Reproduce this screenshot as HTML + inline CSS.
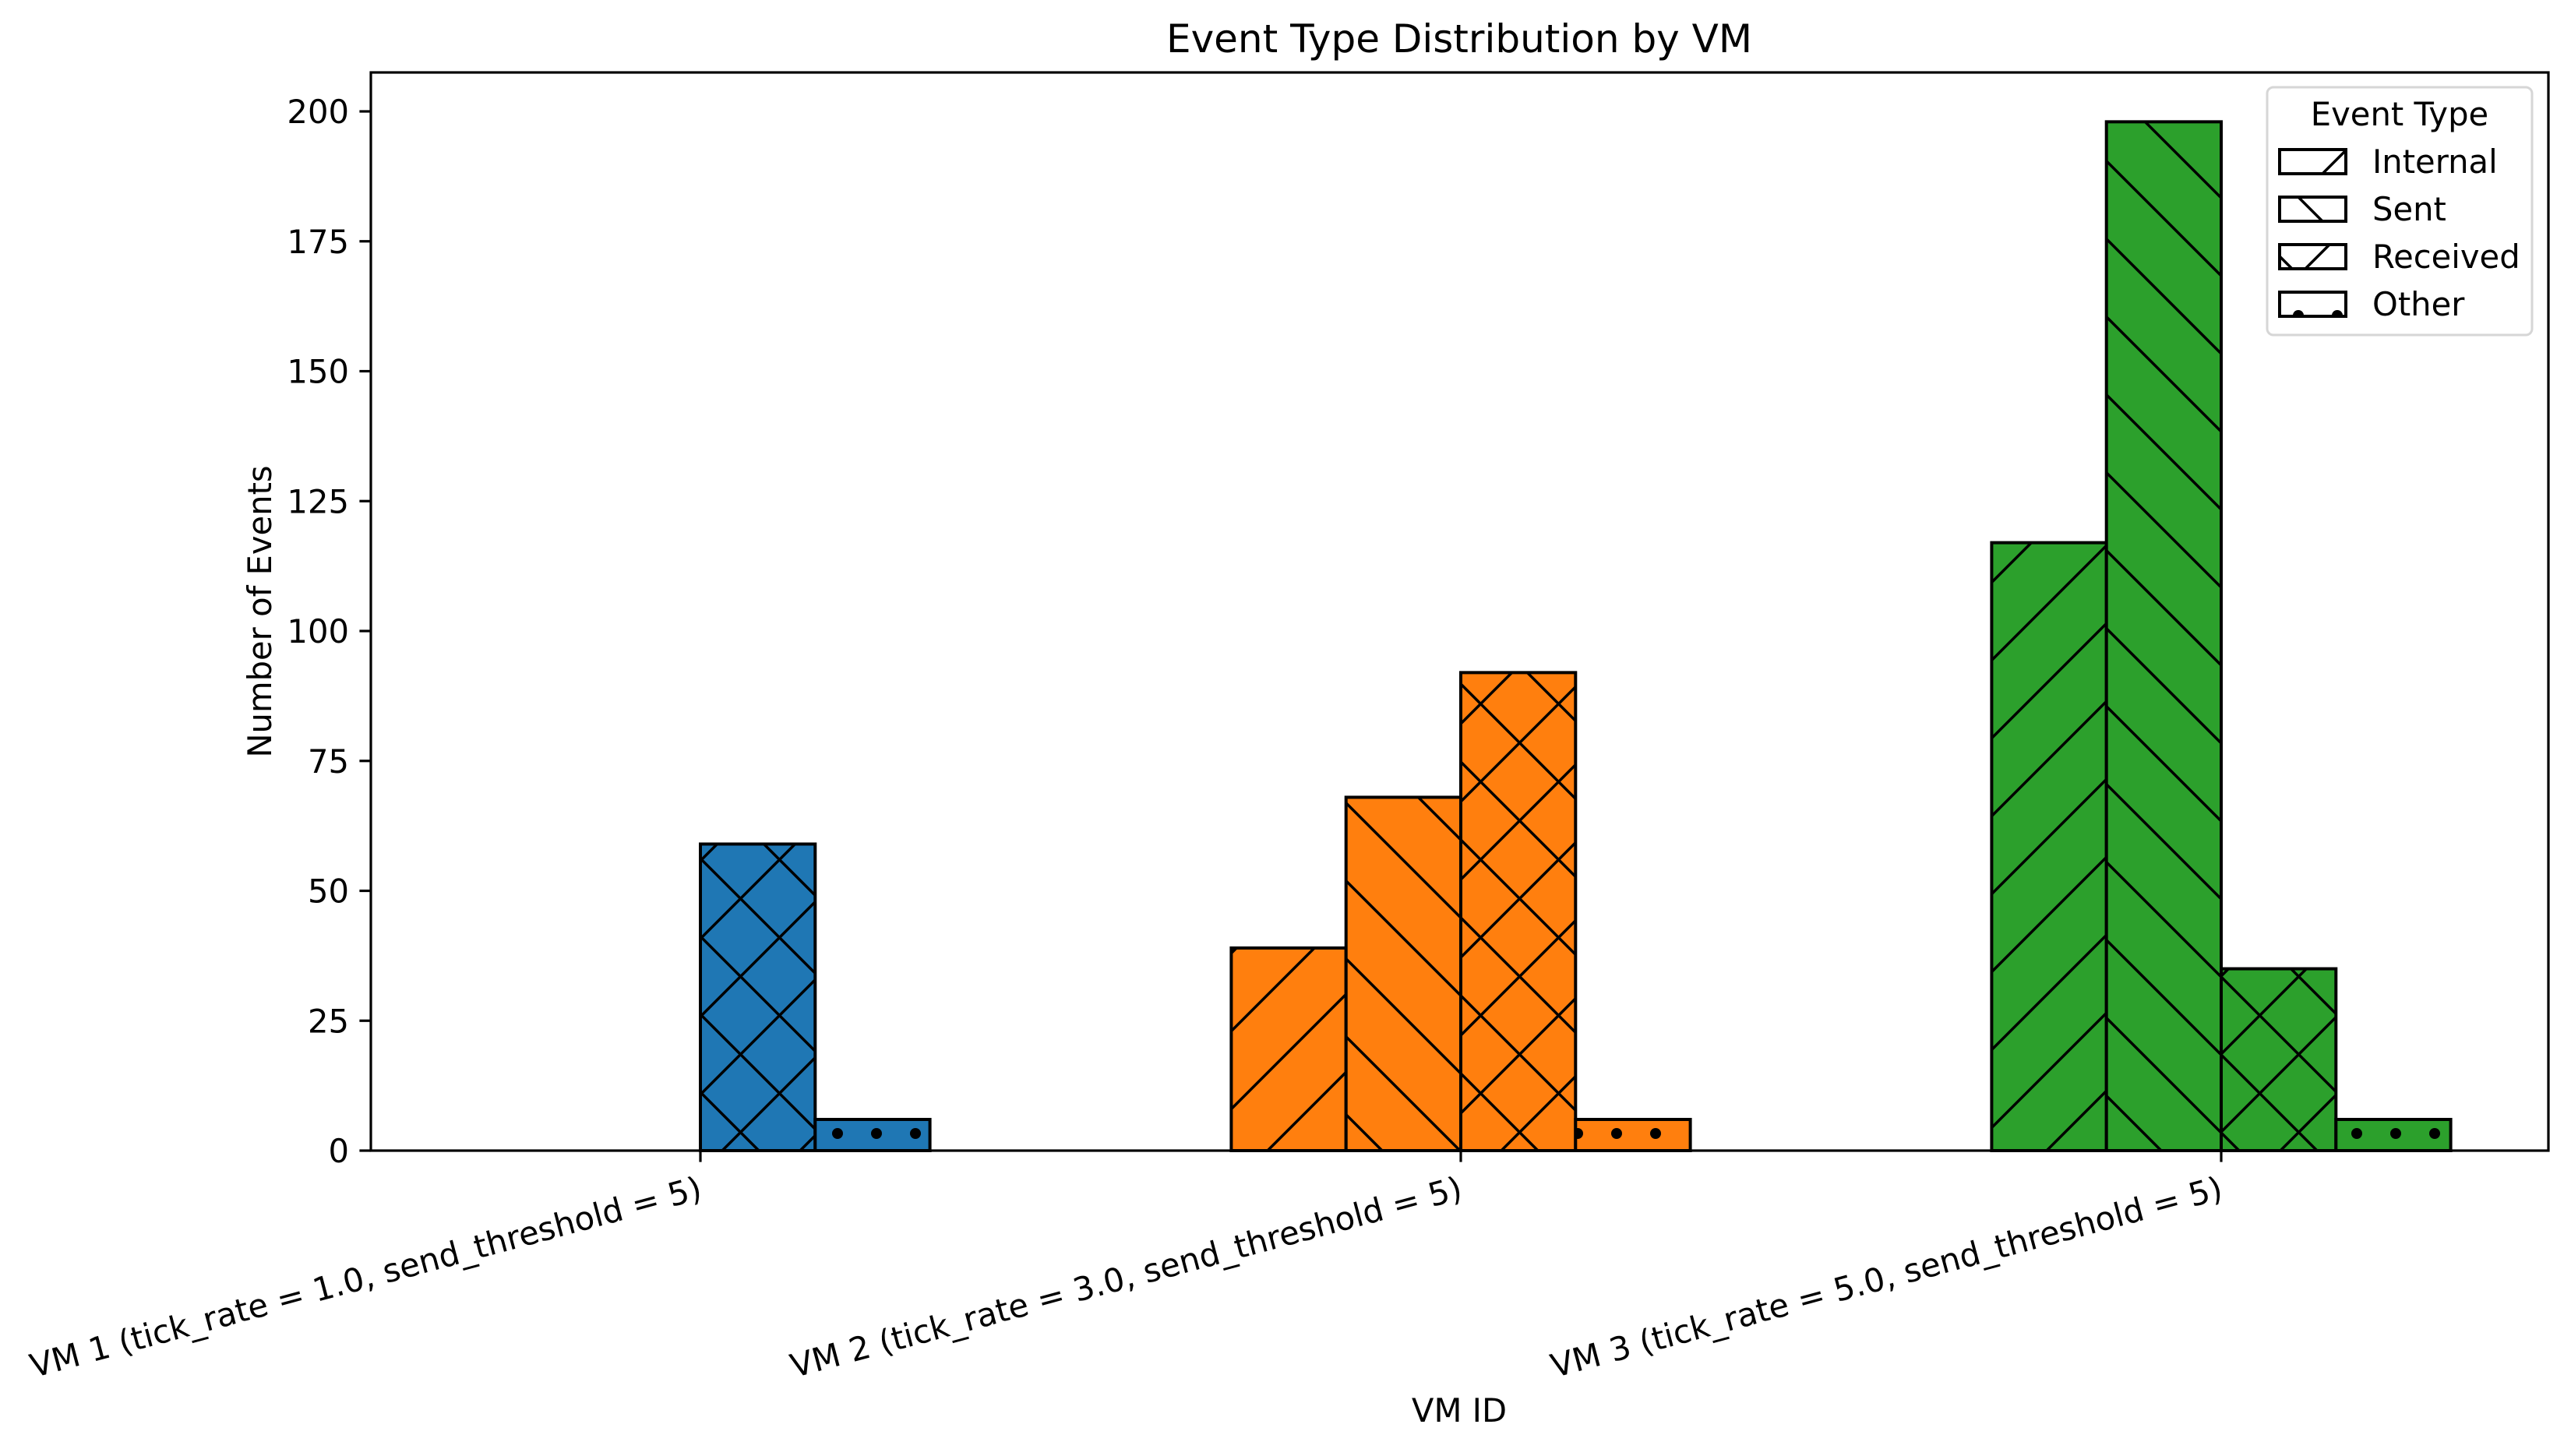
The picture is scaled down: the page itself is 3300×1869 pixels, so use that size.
<!DOCTYPE html>
<html><head><meta charset="utf-8"><style>
html,body{margin:0;padding:0;background:#fff;}
svg text{font-family:"DejaVu Sans","Liberation Sans",sans-serif;fill:#000;}
</style></head><body>
<svg id="chart" xmlns="http://www.w3.org/2000/svg" width="3300" height="1864" viewBox="0 0 3300 1864">
<defs>
<pattern id="h-fwd" patternUnits="userSpaceOnUse" width="100" height="100" x="4" y="0">
<path d="M-50,50 L50,-50 M0,100 L100,0 M50,150 L150,50" stroke="#000" stroke-width="3.5"/></pattern>
<pattern id="h-back" patternUnits="userSpaceOnUse" width="100" height="100" x="97" y="0">
<path d="M-50,50 L50,150 M0,0 L100,100 M50,-50 L150,50" stroke="#000" stroke-width="3.5"/></pattern>
<pattern id="h-dot" patternUnits="userSpaceOnUse" width="50" height="100">
<circle cx="25" cy="55" r="7" fill="#000"/></pattern>
<clipPath id="clip-other"><rect x="2926" y="374" width="85" height="31"/></clipPath>
</defs>
<rect width="3300" height="1864" fill="#fff"/>
<g id="bars"></g>
<g id="axes"></g>
<text x="1873" y="67" font-size="50" text-anchor="middle">Event Type Distribution by VM</text>
<text x="1873" y="1825" font-size="41.7" text-anchor="middle">VM ID</text>
<text x="0" y="0" font-size="41.7" text-anchor="middle" transform="translate(348,785) rotate(-90)">Number of Events</text>
<g>
<rect x="2910" y="112" width="340" height="318" rx="8" fill="#fff" fill-opacity="0.8" stroke="#d6d6d6" stroke-width="3"/>
<text x="3080" y="161" font-size="41.7" text-anchor="middle">Event Type</text>
<g id="legend-items"></g>
</g>
</svg>
<script>
const categories = ["VM 1 (tick_rate = 1.0, send_threshold = 5)","VM 2 (tick_rate = 3.0, send_threshold = 5)","VM 3 (tick_rate = 5.0, send_threshold = 5)"];
const seriesNames = ["Internal","Sent","Received","Other"];
const internalVals = [0, 39, 117];
const sentVals = [0, 68, 198];
const receivedVals = [59, 92, 35];
const otherVals = [6, 6, 6];
const yTicks = [0,25,50,75,100,125,150,175,200];
const colors = ["#1f77b4","#ff7f0e","#2ca02c"];

const NS="http://www.w3.org/2000/svg";
const L=476,R=3271,T=93,B=1477;
const yScale=v=>B-(v*(B-143)/200);
const xScale=i=>899+976*i;
const barW=147.3;
const series=[internalVals,sentVals,receivedVals,otherVals];
const hatchFns=[["h-fwd"],["h-back"],["h-fwd","h-back"],["h-dot"]];
function mk(tag,attrs,parent){const e=document.createElementNS(NS,tag);for(const k in attrs)e.setAttribute(k,attrs[k]);parent.appendChild(e);return e;}
const bars=document.getElementById('bars');
series.forEach((vals,s)=>{
  vals.forEach((v,i)=>{
    const x=xScale(i)+(s-2)*barW, y=yScale(v), h=B-y;
    const g=mk('g',{},bars);
    
    
    mk('rect',{x:x,y:y,width:barW,height:h,fill:colors[i]},g);
    hatchFns[s].forEach(p=>mk('rect',{x:x,y:y,width:barW,height:h,fill:'url(#'+p+')'},g));
    mk('rect',{x:x,y:y,width:barW,height:h,fill:'none',stroke:'#000','stroke-width':4},g);
  });
});
const axes=document.getElementById('axes');
const frame=mk('rect',{x:L,y:T,width:R-L,height:B-T,fill:'none',stroke:'#000','stroke-width':3.2},axes);


yTicks.forEach(t=>{
  const y=yScale(t);
  mk('line',{x1:L-14.6,x2:L,y1:y,y2:y,stroke:'#000','stroke-width':3.2},axes);
  const tx=mk('text',{x:L-28,y:y+15,'font-size':41.7,'text-anchor':'end'},axes);
  
  
  tx.textContent=t;
});
categories.forEach((c,i)=>{
  const x=xScale(i);
  mk('line',{x1:x,x2:x,y1:B,y2:B+14.6,stroke:'#000','stroke-width':3.2},axes);
  const tx=mk('text',{x:x-4,y:1508,'font-size':41.7,'text-anchor':'end','dominant-baseline':'hanging',transform:'rotate(-15,'+(x-4)+',1508)'},axes);
  
  
  tx.textContent=c;
});
const li=document.getElementById('legend-items');
seriesNames.forEach((n,s)=>{
  const y=192+61*s;
  const g=mk('g',{},li);
  
  
  mk('rect',{x:2926,y:y,width:85,height:31,fill:'#fff'},g);
  if(s===3){
    const cg=mk('g',{'clip-path':'url(#clip-other)'},g);
    mk('circle',{cx:2950,cy:y+30,r:7,fill:'#000'},cg);
    mk('circle',{cx:3000,cy:y+30,r:7,fill:'#000'},cg);
  } else {
    hatchFns[s].forEach(p=>mk('rect',{x:2926,y:y,width:85,height:31,fill:'url(#'+p+')'},g));
  }
  mk('rect',{x:2926,y:y,width:85,height:31,fill:'none',stroke:'#000','stroke-width':4},g);
  const t=mk('text',{x:3045,y:y+30,'font-size':41.7},g);
  t.textContent=n;
});
</script>
</body></html>
